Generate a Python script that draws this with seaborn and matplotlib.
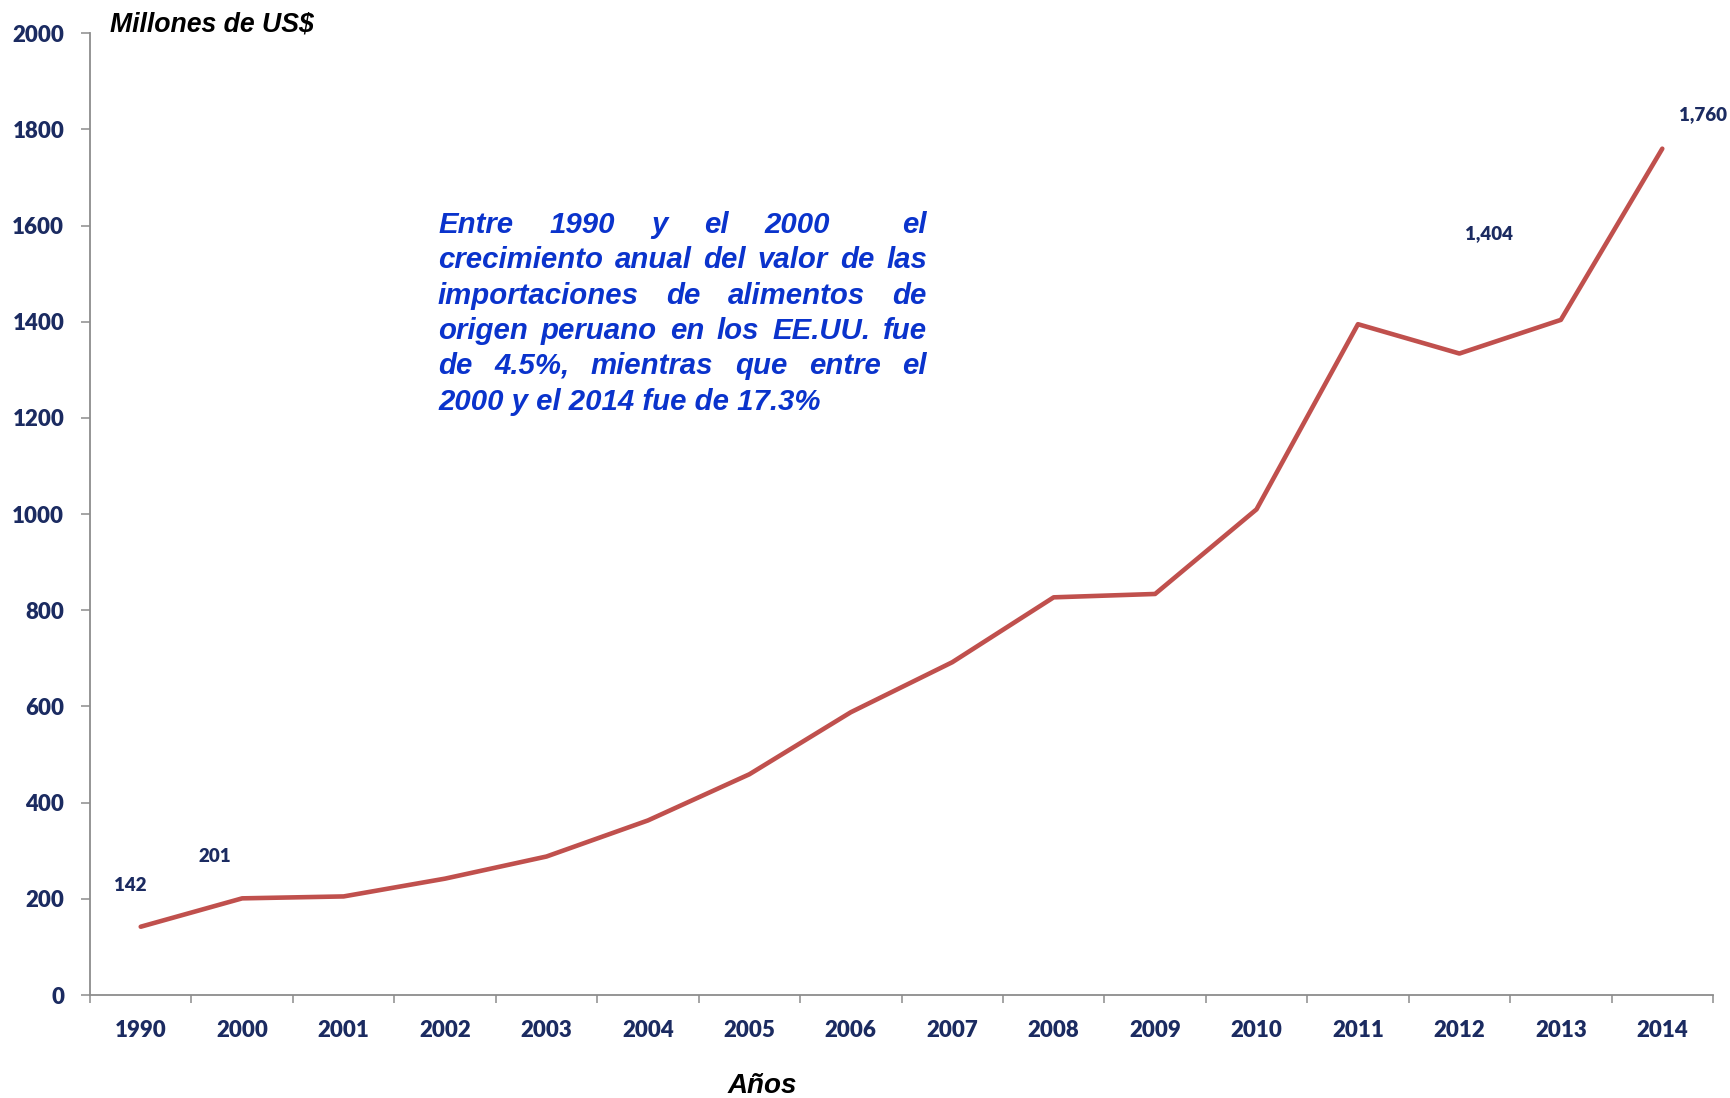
import matplotlib
matplotlib.use("Agg")
import matplotlib.pyplot as plt
import numpy as np
import pandas as pd
import seaborn as sns

# Data
years = ["1990", "2000", "2001", "2002", "2003", "2004", "2005", "2006",
         "2007", "2008", "2009", "2010", "2011", "2012", "2013", "2014"]
values = [142, 201, 205, 242, 288, 363, 459, 588,
          692, 827, 834, 1010, 1395, 1334, 1404, 1760]
labeled_years = ["1990", "2000", "2013", "2014"]
label_texts = ["142", "201", "1,404", "1,760"]
label_offsets = [(-0.1, 85), (-0.27, 88), (-0.71, 180), (0.4, 70)]

note_lines = [
    "Entre 1990 y el 2000  el",
    "crecimiento anual del valor de las",
    "importaciones de alimentos de",
    "origen peruano en los EE.UU. fue",
    "de 4.5%, mientras que entre el",
    "2000 y el 2014 fue de 17.3%",
]

navy = "#1b2b61"
red = "#c0504d"
blue = "#0a33cc"
gray = "#8c8c8c"

sns.set_style("white")
plt.rcParams["font.family"] = ["Lato", "DejaVu Sans"]

df = pd.DataFrame({"pos": np.arange(len(years)), "value": values})

fig = plt.figure(figsize=(17.31, 10.98), dpi=100)
ax = fig.add_axes([0.052, 0.0938, 0.9376, 0.8759])

sns.lineplot(data=df, x="pos", y="value", ax=ax, color=red, linewidth=3.3,
             solid_capstyle="round")

ax.set_xlim(-0.5, len(years) - 0.5)
ax.set_ylim(0, 2000)
ax.set_yticks(range(0, 2001, 200))
ax.set_xticks(np.arange(-0.5, len(years), 1.0))
ax.set_xticklabels([])
ax.set_xticks(np.arange(len(years)), minor=True)
ax.set_xticklabels(years, minor=True)
ax.set_xlabel("")
ax.set_ylabel("")

for side in ["top", "right"]:
    ax.spines[side].set_visible(False)
for side in ["left", "bottom"]:
    ax.spines[side].set_color(gray)
    ax.spines[side].set_linewidth(1.3)

ax.tick_params(axis="y", which="major", direction="out", length=6.5, width=1.1,
               color=gray, labelsize=16, labelcolor=navy, pad=12, left=True)
ax.tick_params(axis="x", which="major", direction="out", length=6, width=1.1,
               color=gray, bottom=True)
ax.tick_params(axis="x", which="minor", length=0, labelsize=16,
               labelcolor=navy, pad=18, bottom=True)
for lab in ax.get_yticklabels() + ax.get_xticklabels(minor=True):
    lab.set_fontweight("heavy")

# data labels
for yr, txt, (dx, dy) in zip(labeled_years, label_texts, label_offsets):
    i = years.index(yr)
    ax.text(i + dx, values[i] + dy, txt, ha="center", va="center",
            fontsize=13.5, fontweight="heavy", color=navy)

fig.text(110 / 1731, 1 - 24 / 1098, "Millones de US$", ha="left", va="center",
         fontsize=19.2, fontweight="bold", fontstyle="italic", color="black",
         family=["Liberation Sans", "DejaVu Sans"])
fig.text(762 / 1731, 1 - 1086 / 1098, "Años", ha="center", va="center",
         fontsize=20, fontweight="bold", fontstyle="italic", color="black",
         family=["Liberation Sans", "DejaVu Sans"])

# justified note text (a double space leaves a wider gap, as in the original)
left_px, right_px = 438, 927
line_y = [225, 260, 296, 331, 366, 402]
note_style = dict(fontsize=21.2, fontweight="bold", fontstyle="italic",
                  color=blue, family=["Liberation Sans", "DejaVu Sans"],
                  va="center", ha="left")
renderer = fig.canvas.get_renderer()
for k, line in enumerate(note_lines):
    yf = 1 - line_y[k] / 1098
    words = line.split(" ")
    if k == len(note_lines) - 1:
        fig.text(left_px / 1731, yf, line, **note_style)
        continue
    widths = []
    for w in words:
        if not w:
            widths.append(0.0)
            continue
        t = fig.text(0, 0, w, **note_style)
        widths.append(t.get_window_extent(renderer).width)
        t.remove()
    gap = (right_px - left_px - sum(widths)) / (len(words) - 1)
    x = left_px
    for w, wd in zip(words, widths):
        if w:
            fig.text(x / 1731, yf, w, **note_style)
        x += wd + gap

fig.savefig("out.png", dpi=100)
